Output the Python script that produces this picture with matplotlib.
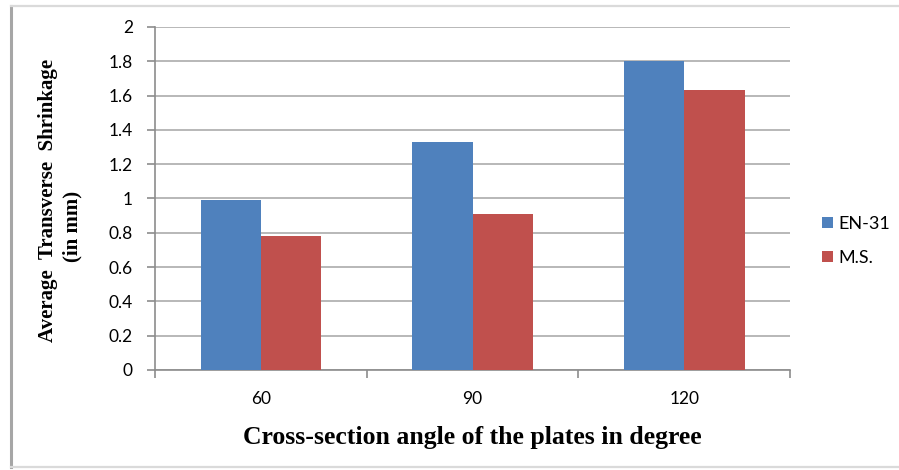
import numpy as np
import matplotlib.pyplot as plt
from matplotlib.lines import Line2D

# data
angles = ["60", "90", "120"]
en31 = [0.99, 1.33, 1.80]
ms = [0.78, 0.91, 1.63]
ytick_labels = ["0", "0.2", "0.4", "0.6", "0.8", "1", "1.2", "1.4", "1.6", "1.8", "2"]

blue = "#4F81BD"
red = "#C0504D"
grid_gray = "#B8B8B8"
axis_gray = "#8C8C8C"
tick_font = "Lato"

fig = plt.figure(figsize=(8.99, 4.70), dpi=100)
ax = fig.add_axes([0.1724, 0.2128, 0.7066, 0.7298])

x = np.arange(len(angles))
w = 0.285
ax.bar(x - w / 2, en31, w, color=blue, label="EN-31", zorder=3)
ax.bar(x + w / 2, ms, w, color=red, label="M.S.", zorder=3)

ax.set_xlim(-0.5, 2.5)
ax.set_ylim(0, 2)
ax.set_yticks(np.arange(0, 2.01, 0.2))
ax.set_yticklabels(ytick_labels)
ax.yaxis.grid(True, color=grid_gray, linewidth=1.4, zorder=0)

# category labels at centres, tick marks at the boundaries (Excel style)
ax.set_xticks(x)
ax.set_xticklabels(angles)
ax.tick_params(axis="x", length=0, pad=15, labelsize=12.5)
ax.set_xticks([-0.5, 0.5, 1.5, 2.5], minor=True)
ax.tick_params(axis="x", which="minor", length=6, color=axis_gray, width=1.2)
ax.tick_params(axis="y", length=6, color=axis_gray, width=1.2, labelsize=12.5, pad=10)

for side in ["top", "right"]:
    ax.spines[side].set_visible(False)
for side in ["left", "bottom"]:
    ax.spines[side].set_color(axis_gray)
    ax.spines[side].set_linewidth(1.2)

for lbl in ax.get_xticklabels() + ax.get_yticklabels():
    lbl.set_family(tick_font)

ax.set_xlabel("Cross-section angle of the plates in degree", family="Liberation Serif",
              fontweight="bold", fontsize=18.5, labelpad=14)

# y label in two separately placed lines, as in the reference
fig.text(0.053, 1 - 200 / 470, "Average  Transverse  Shrinkage", rotation=90,
         family="Liberation Serif", fontweight="bold", fontsize=15,
         ha="center", va="center")
fig.text(0.081, 1 - 226 / 470, "(in mm)", rotation=90,
         family="Liberation Serif", fontweight="bold", fontsize=15,
         ha="center", va="center")

ax.legend(loc="center left", bbox_to_anchor=(0.896, 0.488), bbox_transform=fig.transFigure,
          frameon=False, handlelength=0.6, handleheight=0.6, handletextpad=0.3,
          labelspacing=1.0, prop={"family": tick_font, "size": 13})

# chart frame: darker left edge, light top and bottom edges
fig.add_artist(Line2D([0.012, 0.012], [0.006, 0.988], transform=fig.transFigure,
                      color="#A6A6A6", linewidth=2.2))
fig.add_artist(Line2D([0.012, 1.0], [0.988, 0.988], transform=fig.transFigure,
                      color="#DADADA", linewidth=1.6))
fig.add_artist(Line2D([0.012, 1.0], [0.006, 0.006], transform=fig.transFigure,
                      color="#DADADA", linewidth=1.6))

fig.savefig("out.png", dpi=100)
